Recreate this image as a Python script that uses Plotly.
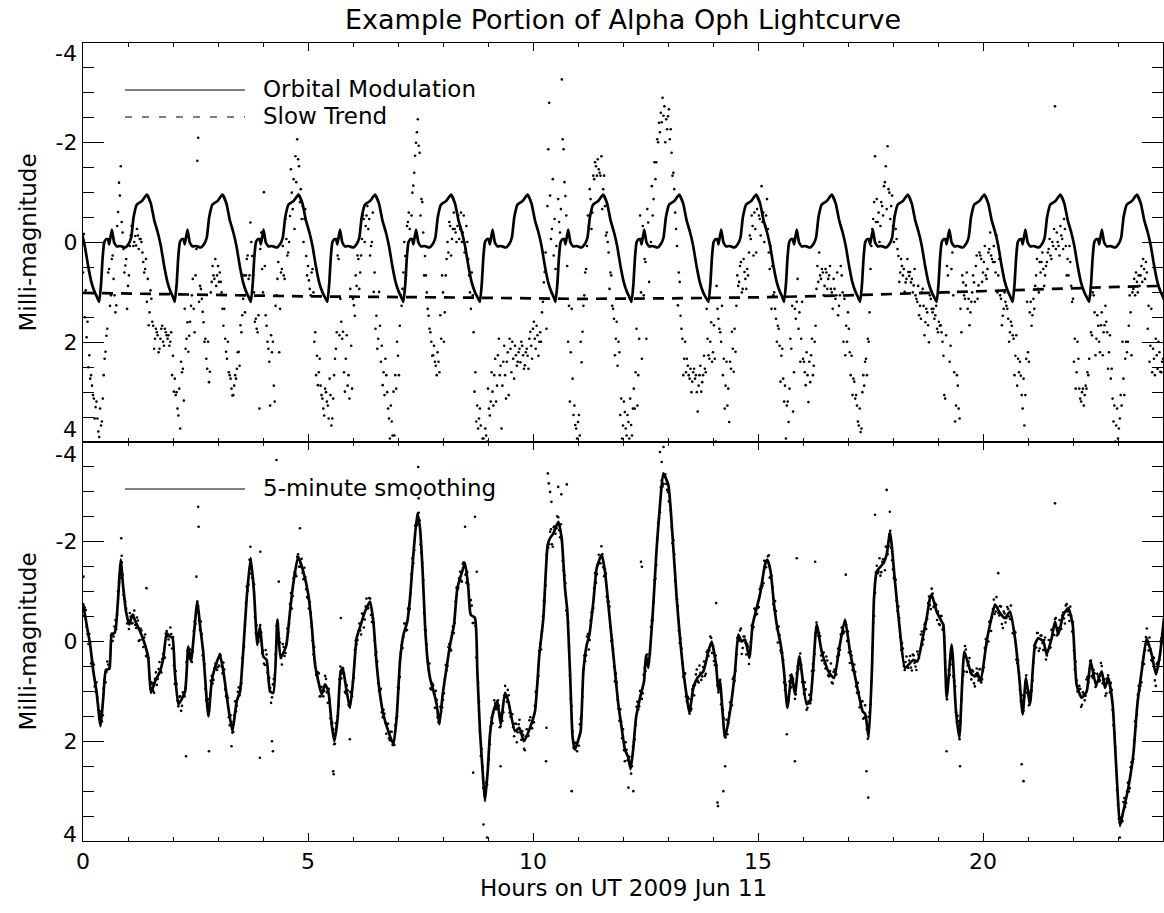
import plotly.graph_objects as go

TITLE = "Example Portion of Alpha Oph Lightcurve"
XLABEL = "Hours on UT 2009 Jun 11"
YLABEL = "Milli-magnitude"
LEG_TOP = ["Orbital Modulation", "Slow Trend"]
LEG_BOT = ["5-minute smoothing"]

# sampling cadence of the photometry (hours)
DOT_STEP = 0.04

# raw light curve (top panel), milli-mag, samples at 0, 0.04, 0.08 ... h
RAW_MMAG = [
 0.60, 1.50, 1.90, 2.50, 2.73, 2.87, 3.13, 3.30, 3.53, 3.90, 3.67, 3.13, 2.33, 1.87, 0.60, 1.27, 0.33, 0.73, 1.40, -0.33, -1.20, -1.53, -0.20, 0.60, 0.33,
 0.87, 0.07, -0.33, 0.07, -0.13, -0.27, 0.13, -0.07, 0.20, 0.60, 0.33, 0.73, 1.40, 1.13, 1.67, 1.93, 1.80, 2.20, 1.93, 1.67, 2.07, 1.80, 1.93, 2.07, 1.80,
 2.27, 2.73, 3.00, 3.47, 3.73, 2.60, 3.17, 2.13, 1.60, 1.87, 1.27, 0.73, 1.80, 0.13, -2.10, 0.87, 1.13, 1.60, 1.93, 2.53, 2.80, 1.00, 0.47, 0.73, 0.87,
 0.47, 0.60, 1.00, 1.67, 1.93, 2.33, 2.60, 2.73, 3.07, 2.87, 2.73, 2.20, 2.47, 1.80, 1.13, 1.40, 0.33, 0.73, -0.40, 0.27, 1.00, 1.53, 1.80, 3.33, -0.20,
 1.00, 0.47, 1.67, 2.13, 3.27, 2.20, 2.87, 1.27, 0.73, 2.20, 0.60, 0.07, 0.73, -0.07, 0.20, -0.53, -1.00, -1.27, -1.73, -2.07, -1.53, -1.07, -0.73, -0.47, 0.27,
 0.47, 0.93, 0.60, 1.00, 1.80, 2.27, 2.60, 2.87, 3.13, 3.47, 3.00, 3.27, 2.73, 3.67, 3.13, 2.33, 1.80, 0.33, 1.13, 1.93, 2.60, 2.33, 2.87, 3.13, 2.07,
 1.13, 1.47, 0.87, 0.33, 0.60, -0.07, -0.47, -0.33, -0.73, -0.47, 0.07, -0.60, 0.60, 1.47, 1.93, 1.67, 2.07, 2.60, 2.33, 3.00, 3.53, 3.27, 3.87, 3.87, 2.93,
 2.27, 1.67, 1.27, 0.60, 0.27, -0.33, -0.60, -0.07, -1.00, -1.40, -2.00, -2.47, -1.80, -0.87, -0.20, 0.27, 1.00, 1.47, 1.80, 2.27, 2.07, 2.47, 2.20, 2.60, 1.93,
 1.00, 1.40, 0.33, 0.20, -0.33, -0.07, -0.60, -0.20, -0.33, -0.07, -0.60, -0.20, 0.20, -0.33, 0.33, 1.00, 0.60, 1.80, 2.60, 3.27, 3.53, 3.67, 3.93, 4.07, 3.87,
 2.93, 3.47, 2.60, 3.27, 2.33, 2.87, 1.93, 2.47, 2.87, 2.07, 3.13, 2.20, 1.93, 2.60, 2.33, 2.07, 2.47, 2.20, 2.40, 2.07, 2.53, 2.20, 2.27, 1.93, 2.07,
 1.73, 1.93, 1.67, 2.27, 1.80, 1.40, 0.80, 0.20, -0.73, -2.80, -0.07, -1.27, -0.47, 0.07, -0.87, -0.20, -3.27, -1.87, -0.93, 0.47, 1.27, 2.20, 2.73, 3.27, 3.73,
 3.60, 3.87, 2.40, 1.27, 0.60, 0.07, -0.33, -0.87, -0.60, -1.27, -1.53, -1.67, -1.40, -1.73, -1.07, -0.73, -0.20, 0.20, 0.60, 1.27, 1.53, 1.93, 2.47, 2.20, 3.13,
 3.67, 3.40, 3.87, 3.60, 3.13, 3.87, 2.93, 2.60, 3.27, 1.93, 1.00, -0.33, 0.33, 1.93, -0.40, 0.07, -1.13, -0.87, -1.27, -2.07, -2.40, -2.60, -2.90, -2.73, -2.47,
 -2.53, -2.07, -1.80, -1.40, -0.60, 0.07, 0.60, 1.47, 1.93, 2.33, 2.60, 2.47, 2.73, 3.00, 2.60, 2.73, 3.00, 2.87, 2.47, 2.80, 2.27, 2.60, 1.93, 2.33, 1.60,
 2.20, 2.33, 0.87, 1.53, 1.80, 1.27, 2.33, 2.87, 3.27, 3.60, 2.53, 2.13, 1.73, 1.27, 0.87, 0.47, 1.00, 0.33, 0.73, 0.53, 0.20, -0.07, -0.33, -0.60, 0.20,
 -0.87, -0.47, -1.13, -0.60, -0.33, -0.87, 0.20, 0.07, 0.47, 1.00, 1.53, 1.67, 2.07, 2.27, 2.73, 2.87, 3.27, 3.60, 1.93, 1.27, 2.60, 1.53, 0.73, 1.40, 1.93,
 2.33, 2.60, 2.20, 3.20, 2.80, 1.93, 2.47, 1.67, 0.47, 0.20, 0.73, 0.60, 0.87, 0.60, 0.73, 0.47, 1.00, 0.73, 1.13, 0.60, 1.27, 0.47, 1.00, 1.13, 1.67,
 1.40, 2.20, 2.27, 2.73, 3.13, 3.27, 3.67, 3.80, 3.00, 2.87, 2.33, 1.93, 1.40, 0.07, -0.47, -1.73, -0.87, -0.60, -0.33, -0.73, -1.13, -1.53, -1.93, -1.00, -0.73,
 -0.33, -0.53, -0.07, 0.27, 0.60, 0.47, 0.53, 0.80, 0.33, 0.67, 0.80, 1.00, 0.53, 1.13, 0.87, 1.27, 1.00, 1.27, 1.60, 1.40, 2.00, 1.13, 1.40, 1.53, 1.27,
 1.80, 1.67, 1.80, 2.27, 3.13, 0.47, 1.00, 2.07, 0.20, 2.60, 3.27, 2.87, 3.53, 1.80, 0.80, 1.13, 0.60, 1.13, 1.40, 1.00, 0.80, 0.47, 1.13, 0.20, 0.33,
 0.60, 0.07, 0.73, 0.20, -0.20, 0.33, 0.07, 0.60, 1.00, 0.33, 1.13, 1.47, 1.00, 1.27, 1.53, 1.80, 1.67, 1.93, 2.27, 2.87, 2.60, 2.67, 3.33, 3.67, 2.33,
 2.20, 1.40, 1.67, 1.13, 0.87, 0.33, 1.00, 0.60, 0.20, 0.87, 0.47, 0.20, -0.07, 0.33, 0.07, -2.73, -0.20, 0.07, -0.33, -0.07, -0.47, 0.07, 0.33, 0.07, 0.87,
 1.13, 1.93, 2.60, 2.33, 3.13, 3.00, 3.27, 2.87, 2.60, 2.33, 1.80, 1.00, 1.40, 1.93, 1.67, 2.20, 1.40, 1.80, 1.27, 1.80, 2.20, 2.73, 3.13, 3.27, 3.67,
 3.93, 3.53, 3.27, 2.73, 2.33, 2.20, 1.67, 1.40, 1.00, 0.73, 0.60, 1.00, 0.87, 0.47, 0.33, 0.73, 0.60, 1.27, 2.07, 2.60, 2.33, 1.93, 2.53, 2.20, 2.60,
 2.33,
]

# raw light curve, interleaved samples at 0.02, 0.06, 0.10 ... h
RAW_MMAG_MID = [
 -0.17, 0.96, 1.59, 2.26, 2.66, 3.06, 3.53, 3.19, 3.79, 3.33, 3.59, 2.66, 2.19, 1.73, 0.53, 1.06, 0.26, 1.06, 1.26, -0.61, -0.94, -0.41, 0.13, 0.46, 1.33,
 0.66, -0.14, -0.34, -0.01, 0.06, -0.14, -0.07, -0.01, 0.39, 0.53, 1.19, 1.66, 0.96, 1.59, 2.13, 1.73, 1.86, 2.13, 1.73, 1.99, 1.73, 1.86, 1.86, 1.99, 2.66,
 2.99, 3.06, 3.33, 2.93, 2.39, 2.53, 1.33, 1.93, 2.19, 1.59, 1.06, 1.33, 0.66, -1.64, 1.19, 0.93, 1.39, 1.99, 2.33, 1.99, 2.59, 0.79, 0.66, 0.33, 0.66,
 0.79, 0.79, 1.33, 1.33, 2.19, 1.99, 2.66, 2.93, 3.06, 2.66, 2.53, 2.19, 1.66, 1.46, 0.66, 0.66, 0.26, 0.66, -0.01, 0.66, 1.59, 1.73, 1.46, 0.13, 0.53,
 -1.01, 1.46, 1.99, 2.39, 1.86, 1.99, 3.19, 1.06, 0.39, 1.33, 0.53, 0.66, -0.47, 0.26, -0.01, -1.47, -0.67, -0.27, -1.21, -1.67, -0.81, -0.47, -0.01, -0.67, 0.66,
 0.76, 1.06, 0.53, 1.99, 2.66, 2.86, 2.33, 3.06, 3.33, 2.93, 3.19, 3.53, 3.06, 3.53, 2.66, 2.13, 0.26, 1.86, 1.59, 1.79, 2.99, 1.86, 2.66, 0.93, 2.93,
 1.26, 0.66, 0.26, 0.93, 0.26, -0.54, -0.01, -0.54, -0.27, 0.26, -0.01, 0.99, 1.73, 2.13, 0.99, 2.39, 2.86, 3.06, 2.66, 3.33, 3.93, 3.59, 2.99, 2.66, 1.99,
 2.66, 1.06, 0.93, -0.01, 0.66, -0.41, -0.27, -0.54, -1.14, -1.74, -2.21, -1.94, -0.54, -0.81, 0.66, 0.66, 1.33, 1.73, 1.99, 2.26, 2.39, 2.66, 2.39, 1.46, 0.66,
 1.99, 0.66, -0.01, -0.41, 0.26, -0.27, -0.27, -0.01, -0.54, -0.27, -0.01, -0.54, 0.13, -0.01, 0.66, 1.33, 1.06, 2.99, 3.59, 3.73, 3.33, 4.13, 3.93, 3.73, 3.99,
 3.33, 3.19, 2.99, 2.66, 3.19, 2.26, 2.66, 3.73, 2.39, 2.66, 2.39, 3.06, 2.13, 1.99, 2.73, 2.26, 2.39, 2.13, 1.99, 2.26, 2.46, 2.13, 2.53, 1.79, 2.33,
 1.59, 2.13, 1.86, 1.99, 1.99, 1.19, 0.59, 1.73, -1.87, -0.94, -0.27, 0.26, 0.53, 0.79, -0.41, -0.67, -2.07, -1.21, -0.54, 1.99, 3.19, 1.33, 3.46, 3.66, 3.93,
 3.46, 1.99, 1.79, 1.06, 0.53, -0.54, -1.07, -0.27, -1.34, -1.61, -1.34, -1.47, -1.34, -0.67, -1.34, -0.14, -0.01, 0.93, 0.66, 1.33, 2.26, 1.59, 1.99, 3.46, 3.93,
 3.19, 3.73, 3.46, 3.93, 3.66, 3.33, 3.33, 1.73, 2.66, -0.54, 2.33, 1.06, 0.39, -0.67, 0.79, -0.01, -0.54, -1.61, -1.61, -2.01, -2.21, -2.41, -2.54, -2.01, -2.27,
 -2.67, -2.27, -1.34, -1.07, -0.27, 1.26, 0.79, 1.73, 2.66, 1.99, 2.33, 2.66, 2.53, 2.79, 2.53, 2.66, 3.39, 2.66, 2.99, 2.66, 2.53, 1.33, 2.26, 1.99, 2.39,
 1.66, 3.99, 1.33, 1.73, 1.99, 2.66, 3.33, 2.39, 2.93, 2.39, 1.79, 2.59, 2.19, 0.66, 0.79, 0.39, 0.93, 0.59, 0.93, 0.66, -0.14, -0.54, 0.26, -0.27, -0.67,
 -0.54, -0.14, -0.41, -0.01, -0.54, -0.27, 0.53, 1.33, 1.06, 1.33, 1.99, 1.73, 2.79, 2.13, 3.19, 3.93, 3.19, 2.93, 2.13, 3.39, 1.33, 1.19, 1.73, 2.39, 1.19,
 2.39, 2.86, 2.66, 2.39, 2.26, 2.66, 1.99, 0.93, 0.79, 0.66, 0.53, 1.06, 0.53, 0.93, 0.66, 0.93, 1.33, 0.93, 1.06, 1.46, 1.06, 0.66, 1.99, 2.26, 1.99,
 1.73, 2.66, 3.06, 2.79, 3.06, 3.59, 3.33, 3.73, 2.66, 2.39, 2.66, 1.99, 0.53, -0.27, -0.81, -0.41, -0.41, -0.01, -0.81, -0.54, -1.21, -0.67, -1.07, -0.47, -0.94,
 -0.01, -0.27, 0.13, 0.79, 0.33, 0.66, 0.99, 0.73, 0.59, 0.59, 0.73, 0.86, 1.06, 1.19, 1.46, 1.53, 0.93, 1.86, 1.33, 1.66, 1.06, 1.33, 1.33, 1.46, 1.73,
 1.59, 1.66, 1.99, 3.06, 1.86, 0.66, 2.39, 0.53, 1.06, 3.59, 2.66, 3.33, 1.33, 0.66, 1.06, 0.86, 1.33, 1.66, 1.19, 0.66, 1.19, 0.26, 0.86, 0.26, 0.79,
 0.39, 0.66, 0.53, 0.13, 0.26, 0.39, 0.39, -0.14, 0.66, 1.06, 1.66, 1.33, 1.19, 1.33, 1.99, 1.59, 1.86, 2.66, 1.86, 2.33, 2.39, 3.06, 2.73, 3.06, 1.19,
 2.39, 1.19, 1.46, 1.33, 0.66, 0.93, 0.39, 0.39, 0.53, 0.66, 0.39, 0.13, 0.26, -0.01, -0.27, 0.13, -0.01, 0.26, -0.14, 0.13, -0.27, 0.66, 0.66, 0.39, 1.19,
 2.39, 2.93, 1.99, 2.93, 3.19, 2.93, 3.06, 2.93, 2.66, 1.06, 1.86, 1.06, 2.26, 1.46, 1.99, 1.66, 2.26, 1.66, 1.59, 2.53, 1.86, 2.53, 3.59, 3.99, 3.33,
 3.73, 3.06, 1.99, 3.06, 1.99, 1.99, 1.06, 2.26, 0.93, 1.06, 0.79, 0.66, 0.66, 0.79, 0.53, 0.39, 1.73, 2.39, 1.33, 2.13, 2.66, 2.26, 1.99, 2.59, 2.39,
]

# residual light curve (bottom panel), milli-mag, samples at 0, 0.04, 0.08 ... h
RESID_MMAG = [
 -0.67, -0.68, -0.29, 0.05, 0.01, 0.39, 0.46, 1.01, 1.13, 1.55, 1.46, 1.48, 0.77, 0.61, 0.46, 0.50, -0.16, -0.10, -0.43, -0.54, -1.19, -1.47, -1.34, -0.85, -0.66,
 -0.43, -0.57, -0.36, -0.53, -0.33, -0.48, -0.01, -0.26, -0.04, -0.08, 0.29, 0.27, 0.74, 0.82, 0.99, 0.75, 0.87, 0.55, 0.59, 0.35, 0.33, -0.16, -0.10, 0.07, -0.15,
 -0.09, 0.85, 0.85, 1.30, 1.10, 1.29, 1.04, 0.93, 0.18, 0.29, 0.35, 0.20, -0.40, -0.60, -0.71, -0.23, -0.15, 0.36, 0.95, 1.16, 1.38, 0.79, 0.84, 0.54, 0.54,
 0.51, 0.25, 0.50, 0.42, 0.96, 1.08, 1.52, 1.48, 1.83, 1.48, 1.40, 1.01, 1.08, 0.84, 0.14, -0.33, -1.10, -1.14, -1.65, -1.28, -1.15, -0.17, -0.05, -0.18, -0.18,
 0.19, 0.47, 0.26, 0.73, 0.93, 1.12, 0.75, 0.26, -0.26, -0.06, 0.33, 0.05, 0.29, 0.04, -0.19, -0.75, -0.66, -1.27, -1.36, -1.70, -1.50, -1.57, -1.38, -1.48, -1.05,
 -0.87, -0.79, -0.30, 0.26, 0.42, 0.68, 0.64, 1.10, 0.99, 0.99, 0.75, 1.23, 1.17, 1.65, 1.76, 2.05, 1.63, 1.30, 0.50, 0.64, 0.64, 1.04, 0.98, 1.30, 1.04,
 0.81, 0.17, 0.06, -0.21, -0.22, -0.56, -0.28, -0.70, -0.66, -0.87, -0.53, -0.48, -0.02, 0.21, 0.83, 1.01, 1.42, 1.37, 1.63, 1.65, 1.94, 1.81, 2.07, 2.07, 1.54,
 0.92, 0.71, 0.07, -0.09, -0.36, -0.23, -0.68, -0.96, -1.67, -1.83, -2.34, -2.38, -2.43, -1.78, -1.23, -0.24, 0.06, 0.57, 0.94, 0.84, 1.05, 0.99, 1.52, 1.62, 1.41,
 1.17, 0.75, 0.58, 0.11, 0.14, -0.18, -0.17, -0.80, -1.04, -1.27, -1.22, -1.56, -1.50, -1.18, -1.15, -0.67, -0.72, -0.37, -0.31, 0.62, 1.20, 2.29, 2.51, 3.09, 2.83,
 2.45, 2.06, 1.53, 1.43, 1.24, 1.32, 1.29, 1.70, 1.59, 1.09, 1.10, 0.97, 1.43, 1.45, 1.72, 1.65, 2.02, 1.66, 1.83, 1.80, 2.15, 1.90, 1.90, 1.58, 1.74,
 1.63, 1.29, 1.03, 0.69, 0.04, -0.20, -0.82, -1.12, -1.88, -1.95, -2.25, -1.90, -2.31, -2.27, -2.49, -2.09, -2.05, -1.43, -1.17, -0.54, 0.10, 1.15, 1.80, 2.14, 2.03,
 2.01, 1.66, 1.50, 0.56, 0.39, -0.10, 0.16, -0.42, -0.60, -1.07, -1.18, -1.55, -1.57, -1.91, -1.49, -1.45, -0.90, -0.80, -0.29, -0.03, 0.50, 0.64, 1.17, 1.59, 1.61,
 1.76, 2.40, 2.17, 2.37, 2.42, 2.50, 2.01, 1.68, 1.21, 1.30, 1.00, 1.04, 0.53, 0.35, 0.45, 0.25, -0.42, -0.78, -1.26, -2.07, -2.46, -3.09, -3.11, -3.35, -3.16,
 -3.00, -2.80, -2.28, -2.03, -1.22, -0.84, -0.22, -0.06, 0.44, 0.66, 1.10, 1.11, 1.45, 1.35, 0.89, 0.87, 0.56, 0.82, 0.63, 0.70, 0.40, 0.65, 0.18, 0.18, -0.07,
 0.09, 0.47, 0.48, 1.02, 0.77, 1.35, 1.54, 1.92, 1.86, 1.43, 1.26, 0.75, 0.79, 0.26, -0.03, -0.22, 0.25, -0.10, 0.03, 0.05, 0.45, 0.01, -0.27, -0.66, -0.54,
 -0.68, -1.05, -1.08, -1.17, -1.61, -1.61, -1.73, -1.28, -1.09, -0.64, -0.61, 0.02, -0.13, 0.22, 0.37, 0.97, 1.19, 1.19, 0.68, 0.81, 0.89, 1.06, 0.50, 0.34, 0.47,
 0.80, 0.82, 1.37, 1.20, 1.24, 0.59, 0.58, -0.17, -0.22, -0.17, 0.28, 0.25, 0.44, 0.30, 0.68, 0.59, 0.82, 0.61, 0.60, 0.30, 0.27, -0.14, -0.15, -0.20, -0.34,
 -0.20, 0.43, 0.28, 0.58, 0.61, 1.03, 1.02, 1.27, 1.20, 1.53, 1.51, 1.95, 1.42, 0.81, -0.38, -0.97, -1.52, -1.40, -1.32, -1.60, -1.58, -1.90, -1.75, -2.15, -1.88,
 -1.45, -1.26, -0.82, -0.70, -0.08, 0.03, 0.49, 0.41, 0.51, 0.38, 0.52, 0.26, 0.43, 0.57, 0.26, 0.19, -0.20, -0.04, -0.37, -0.45, -0.90, -0.65, -0.96, -0.71, -0.73,
 -0.60, -0.33, -0.51, -0.29, 0.40, 1.16, 0.56, 0.34, 0.46, 0.78, 1.42, 1.49, 1.96, 1.18, 0.67, 0.09, 0.61, 0.40, 0.62, 0.57, 0.84, 0.66, 0.70, 0.56, 0.82,
 0.59, 0.13, 0.06, 0.00, -0.41, -0.48, -0.84, -0.60, -0.69, -0.52, -0.70, -0.27, -0.56, -0.47, -0.65, -0.45, -0.43, -0.16, -0.18, 0.43, 0.62, 1.20, 1.34, 1.11, 0.68,
 1.02, 1.04, 0.99, 0.42, 0.13, -0.17, 0.19, -0.12, 0.03, -0.03, 0.36, 0.17, 0.13, -0.23, -0.13, -0.45, -0.12, -0.27, -0.28, -0.52, -0.46, -0.72, -0.60, -0.41, -0.51,
 -0.39, 0.56, 0.78, 1.00, 0.95, 1.27, 1.06, 1.09, 0.71, 0.71, 0.38, 0.73, 0.64, 0.88, 0.70, 0.78, 0.49, 0.84, 1.09, 0.74, 0.83, 0.83, 1.37, 1.83, 2.59,
 3.28, 3.63, 3.62, 3.22, 3.32, 3.01, 3.01, 2.52, 2.42, 1.98, 1.70, 1.07, 0.97, 0.82, 0.33, 0.17, -0.26, 0.18, 0.15, 0.39, 0.33, 0.89, 0.42, 0.36, -0.06,
 -0.19,
]

# residual light curve, interleaved samples at 0.02, 0.06, 0.10 ... h
RESID_MMAG_MID = [
 -0.51, -0.63, -0.15, -0.15, 0.44, 0.43, 0.90, 0.82, 1.37, 1.40, 1.60, 0.94, 0.82, 0.40, 0.53, -0.12, -0.01, -0.30, -0.25, -1.01, -1.27, -1.59, -0.93, -0.80, -0.36,
 -0.25, -0.50, -0.37, -0.62, -0.27, -0.42, -0.03, -0.22, 0.11, -0.14, 0.30, 0.33, 0.95, 0.85, 1.03, 0.62, 0.75, 0.41, 0.62, 0.25, 0.32, -0.21, -0.04, -0.28, 0.14,
 0.48, 0.59, 1.19, 1.11, 1.39, 1.02, 1.10, 0.41, 0.34, 0.16, 0.41, -0.21, -0.35, -0.80, -0.41, -0.40, 0.28, 0.45, 1.18, 1.16, 1.27, 0.69, 0.77, 0.44, 0.57,
 0.48, 0.28, 0.64, 0.56, 1.10, 1.13, 1.68, 1.61, 1.81, 1.20, 1.29, 0.92, 0.95, 0.33, 0.11, -0.77, -1.02, -1.64, -1.36, -1.26, -0.49, -0.32, 0.00, -0.33, 0.23,
 0.44, 0.17, 0.62, 0.73, 1.23, 0.86, 0.67, -0.31, -0.16, 0.02, 0.46, 0.11, 0.23, -0.26, -0.35, -0.97, -0.91, -1.38, -1.31, -1.75, -1.50, -1.66, -1.25, -1.29, -0.89,
 -0.66, -0.58, -0.02, 0.11, 0.67, 0.62, 1.10, 0.91, 1.10, 0.69, 1.02, 0.95, 1.54, 1.63, 2.06, 1.64, 1.50, 0.76, 0.74, 0.54, 1.01, 0.88, 1.27, 1.01, 1.10,
 0.73, -0.02, -0.03, -0.36, -0.14, -0.55, -0.44, -0.86, -0.67, -0.86, -0.39, -0.37, 0.27, 0.40, 0.98, 0.95, 1.52, 1.45, 1.85, 1.65, 1.98, 1.81, 2.08, 1.68, 1.50,
 0.93, 0.23, 0.13, -0.36, -0.22, -0.65, -0.65, -1.35, -1.57, -2.32, -2.33, -2.58, -1.95, -1.58, -0.57, -0.22, 0.41, 0.44, 0.96, 0.88, 1.33, 1.17, 1.62, 1.31, 1.32,
 1.04, 0.47, 0.49, 0.05, 0.18, -0.30, -0.37, -1.08, -1.08, -1.40, -1.20, -1.59, -1.34, -1.39, -0.81, -0.83, -0.37, -0.48, 0.32, 0.82, 1.80, 2.15, 2.94, 2.92, 2.87,
 2.37, 1.71, 1.64, 1.18, 1.36, 1.18, 1.72, 1.44, 1.42, 0.89, 1.21, 1.08, 1.51, 1.46, 1.90, 1.65, 1.82, 1.57, 1.97, 1.87, 2.18, 1.76, 1.89, 1.52, 1.74,
 1.62, 1.01, 0.83, 0.19, 0.16, -0.50, -0.80, -1.74, -1.88, -2.20, -1.95, -2.29, -2.16, -2.51, -2.23, -2.35, -1.62, -1.33, -0.62, -0.37, 0.68, 1.29, 2.13, 2.03, 2.20,
 2.09, 1.55, 1.11, 0.28, 0.28, -0.15, -0.03, -0.58, -0.67, -1.37, -1.35, -1.74, -1.57, -1.75, -1.31, -1.36, -0.80, -0.70, -0.01, 0.14, 0.80, 0.82, 1.35, 1.36, 1.94,
 2.18, 2.02, 2.38, 2.31, 2.65, 2.11, 1.96, 1.31, 1.36, 0.99, 1.15, 0.67, 0.59, 0.26, 0.41, -0.29, -0.43, -1.23, -1.54, -2.38, -2.59, -3.23, -3.16, -3.35, -3.04,
 -2.81, -2.63, -1.97, -1.75, -0.95, -0.71, 0.03, 0.14, 0.71, 0.64, 1.20, 1.15, 1.39, 0.96, 1.08, 0.66, 0.79, 0.48, 0.77, 0.51, 0.69, 0.21, 0.29, -0.10, 0.23,
 0.39, 0.28, 0.88, 0.79, 1.26, 1.37, 1.89, 1.57, 1.64, 1.22, 1.28, 0.71, 0.59, -0.07, -0.01, -0.26, 0.13, -0.10, 0.26, 0.10, 0.27, -0.32, -0.29, -0.63, -0.55,
 -0.69, -1.10, -1.12, -1.62, -1.49, -1.71, -1.28, -1.32, -0.75, -0.81, -0.26, -0.30, 0.18, 0.22, 0.82, 0.87, 1.23, 0.80, 0.92, 0.75, 1.15, 0.64, 0.55, 0.24, 0.81,
 1.05, 0.96, 1.33, 1.07, 1.17, 0.45, 0.25, -0.38, -0.11, -0.11, 0.38, 0.22, 0.54, 0.38, 0.70, 0.44, 0.84, 0.56, 0.66, 0.14, 0.17, -0.28, -0.17, -0.40, -0.01,
 0.22, 0.20, 0.57, 0.46, 0.90, 0.83, 1.32, 1.20, 1.55, 1.28, 1.76, 1.51, 1.26, 0.13, -0.51, -1.38, -1.37, -1.67, -1.39, -1.65, -1.43, -1.90, -1.91, -2.22, -1.63,
 -1.27, -1.24, -0.61, -0.47, 0.17, 0.14, 0.57, 0.30, 0.53, 0.29, 0.58, 0.28, 0.50, 0.20, 0.33, -0.14, 0.06, -0.34, -0.25, -0.77, -0.73, -1.06, -0.69, -0.76, -0.43,
 -0.35, -0.51, -0.24, -0.09, 0.87, 0.74, 0.67, 0.20, 0.70, 0.90, 1.62, 1.60, 1.63, 0.80, 0.60, 0.16, 0.48, 0.33, 0.76, 0.60, 0.90, 0.54, 0.78, 0.55, 0.76,
 0.52, -0.05, 0.00, -0.39, -0.21, -0.65, -0.55, -0.89, -0.57, -0.71, -0.35, -0.60, -0.38, -0.69, -0.50, -0.72, -0.17, -0.20, 0.36, 0.38, 0.96, 1.08, 1.39, 0.85, 1.03,
 1.28, 0.99, 0.78, 0.08, 0.12, -0.17, 0.14, -0.12, 0.17, -0.08, 0.28, -0.03, 0.12, -0.24, -0.13, -0.47, -0.15, -0.43, -0.25, -0.58, -0.36, -0.75, -0.53, -0.70, -0.20,
 0.18, 0.40, 1.00, 0.89, 1.31, 1.02, 1.18, 0.76, 0.82, 0.39, 0.69, 0.57, 0.91, 0.65, 0.80, 0.43, 0.84, 0.76, 1.04, 0.68, 1.02, 0.97, 1.68, 2.12, 2.98,
 3.55, 3.53, 3.60, 3.14, 3.24, 2.83, 2.94, 2.42, 2.36, 1.60, 1.47, 0.89, 0.89, 0.42, 0.45, -0.09, 0.06, -0.08, 0.37, 0.31, 0.78, 0.45, 0.50, 0.00, 0.03,
]

# isolated residual points (hours, milli-mag)
RESID_OUT_T = [0.01, 0.85, 0.86, 1.41, 2.29, 2.52, 2.56, 2.57, 2.80, 3.30, 3.72, 3.93, 3.94, 4.20, 4.22, 4.30, 4.35, 4.82, 5.56, 5.57,
               5.73, 5.93, 7.45, 7.46, 8.49, 8.67, 8.71, 8.75, 8.90, 8.98, 9.28, 10.29, 10.30, 10.33, 10.35, 10.38, 10.41, 10.56, 10.63, 10.75,
               10.86, 12.12, 12.23, 12.40, 12.42, 12.82, 12.86, 12.90, 14.07, 14.10, 14.11, 14.23, 14.27, 15.64, 15.82, 15.86, 16.27, 16.95, 17.41, 17.45,
               17.60, 17.86, 17.93, 19.19, 19.49, 20.34, 20.86, 20.90, 21.60, 23.04]
RESID_OUT_V = [-1.30, -2.07, -1.72, -1.07, 2.30, -1.30, -2.70, -2.30, 2.20, 2.10, -1.90, 2.33, -1.80, 2.00, 2.20, -3.64, -1.20, -2.27, 2.60, 2.66,
               -0.47, 1.96, -3.50, -2.87, -2.30, 2.63, -2.50, -1.40, 3.67, 3.93, 2.50, 2.40, 1.73, -3.37, -3.17, -3.00, -2.80, -3.10, -2.95, -3.15,
               3.00, 2.93, 3.00, -1.60, -1.50, -3.80, -3.60, -3.90, -0.77, 3.23, 3.30, 3.00, 2.50, 1.86, 2.40, -1.67, -1.60, -1.34, 2.60, 3.13,
               -2.54, -3.04, -2.60, 2.20, 2.50, -1.37, 2.46, 2.80, -2.77, 3.93]

# orbital modulation: one cycle shape (hours after minimum, milli-mag) and the minimum times
ORB_DT = [0.000, 0.044, 0.074, 0.111, 0.148, 0.193, 0.222, 0.281, 0.333, 0.393, 0.467, 0.578, 0.652,
          0.711, 0.763, 0.837, 0.948, 1.059, 1.148, 1.222, 1.296, 1.370, 1.444, 1.518, 1.592, 1.630]
ORB_V = [1.19, 0.80, 0.33, 0.00, -0.06, -0.07, 0.04, -0.26, 0.00, 0.08, 0.07, 0.10, 0.03,
         -0.10, -0.50, -0.76, -0.83, -0.96, -0.78, -0.45, -0.22, 0.07, 0.47, 0.80, 1.00, 1.07]
ORB_MIN_T = [-1.33, 0.36, 2.04, 3.73, 5.43, 7.12, 8.82, 10.50, 12.19, 13.90, 15.58, 17.27, 18.97, 20.66, 22.36, 24.05]

# slow trend
TREND_T = [0, 2, 5, 8, 11, 13, 15, 17, 19, 21, 23, 24]
TREND_V = [1.01, 1.04, 1.08, 1.10, 1.13, 1.12, 1.10, 1.06, 1.00, 0.94, 0.89, 0.87]

# 5-minute smoothing
SMOOTH_T = [0.00, 0.08, 0.16, 0.23, 0.30, 0.39, 0.45, 0.51, 0.585, 0.637, 0.70, 0.733, 0.79, 0.837, 0.896, 0.956, 1.03, 1.10, 1.18, 1.27,
            1.38, 1.45, 1.51, 1.60, 1.71, 1.785, 1.86, 1.93, 1.99, 2.04, 2.12, 2.19, 2.27, 2.34, 2.40, 2.54, 2.60, 2.67, 2.785, 2.86,
            2.93, 3.04, 3.12, 3.23, 3.32, 3.415, 3.49, 3.56, 3.64, 3.726, 3.80, 3.874, 3.933, 4.007, 4.081, 4.156, 4.23, 4.32, 4.39, 4.467,
            4.52, 4.60, 4.67, 4.78, 4.896, 5.007, 5.081, 5.156, 5.23, 5.304, 5.378, 5.452, 5.526, 5.585, 5.659, 5.726, 5.77, 5.859, 5.933, 6.007,
            6.081, 6.17, 6.267, 6.378, 6.452, 6.526, 6.60, 6.674, 6.785, 6.896, 6.97, 7.044, 7.119, 7.207, 7.267, 7.341, 7.43, 7.489, 7.548, 7.60,
            7.652, 7.711, 7.80, 7.859, 7.919, 7.993, 8.067, 8.156, 8.244, 8.319, 8.415, 8.489, 8.563, 8.615, 8.711, 8.763, 8.822, 8.881, 8.933, 8.993,
            9.044, 9.119, 9.207, 9.281, 9.378, 9.452, 9.60, 9.696, 9.80, 9.933, 10.044, 10.141, 10.23, 10.326, 10.378, 10.452, 10.563, 10.637, 10.711, 10.763,
            10.822, 10.881, 10.933, 11.007, 11.059, 11.119, 11.193, 11.252, 11.341, 11.415, 11.526, 11.60, 11.674, 11.748, 11.822, 11.896, 11.97, 12.044, 12.119, 12.17,
            12.23, 12.289, 12.378, 12.467, 12.511, 12.563, 12.622, 12.674, 12.748, 12.822, 12.896, 13.007, 13.104, 13.193, 13.267, 13.341, 13.40, 13.474, 13.563, 13.652,
            13.785, 13.896, 13.97, 14.067, 14.119, 14.156, 14.267, 14.378, 14.489, 14.563, 14.637, 14.711, 14.807, 14.881, 14.97, 15.044, 15.156, 15.207, 15.281, 15.356,
            15.43, 15.504, 15.578, 15.652, 15.748, 15.822, 15.919, 16.081, 16.156, 16.304, 16.415, 16.563, 16.689, 16.807, 16.933, 17.044, 17.133, 17.326, 17.385, 17.459,
            17.533, 17.578, 17.637, 17.785, 17.859, 17.933, 18.044, 18.156, 18.267, 18.452, 18.541, 18.659, 18.748, 18.822, 18.859, 18.97, 19.081, 19.119, 19.193, 19.304,
            19.40, 19.474, 19.585, 19.674, 19.748, 19.822, 19.874, 19.948, 20.081, 20.156, 20.267, 20.378, 20.489, 20.60, 20.711, 20.807, 20.881, 20.956, 21.044, 21.156,
            21.23, 21.341, 21.415, 21.526, 21.60, 21.674, 21.785, 21.896, 21.993, 22.081, 22.193, 22.304, 22.393, 22.511, 22.637, 22.711, 22.785, 22.881, 22.933, 22.985,
            23.044, 23.119, 23.23, 23.341, 23.43, 23.526, 23.637, 23.748, 23.844, 23.933, 24.022]
SMOOTH_V = [-0.77, -0.34, 0.07, 0.60, 1.00, 1.70, 1.13, 0.57, 0.55, -0.14, -0.17, -0.30, -1.00, -1.64, -1.07, -0.60, -0.34, -0.54, -0.37, -0.20,
            0.07, 0.33, 1.03, 0.80, 0.60, 0.33, -0.17, -0.10, -0.07, 0.60, 1.26, 1.16, 1.00, 0.10, 0.40, -0.80, -0.33, 0.20, 1.50, 0.80,
            0.53, 0.27, 0.60, 1.33, 1.80, 1.20, 1.00, 0.20, -0.90, -1.67, -1.00, 0.07, -0.30, 0.30, 0.37, 1.00, 1.03, -0.44, 0.33, 0.20,
            0.07, -0.60, -1.14, -1.70, -1.40, -0.94, -0.34, 0.46, 0.80, 1.06, 0.86, 1.00, 1.66, 2.00, 1.53, 0.60, 0.53, 1.00, 1.33, 0.73,
            -0.07, -0.33, -0.60, -0.80, -0.40, 0.46, 1.06, 1.46, 1.80, 2.06, 1.53, 0.40, -0.13, -0.40, -0.87, -1.74, -2.57, -2.27, -1.40, -0.34,
            0.33, 0.73, 1.03, 1.26, 1.66, 1.06, 0.60, 0.07, -0.33, -1.07, -1.37, -1.57, -1.07, -0.54, -0.47, 0.60, 1.80, 2.60, 3.20, 2.60,
            1.86, 1.40, 1.20, 1.66, 1.03, 1.20, 1.80, 1.73, 2.00, 1.73, 1.40, 0.26, -0.47, -1.94, -2.07, -2.17, -2.40, -2.07, -1.07, -0.60,
            0.60, 1.93, 2.17, 1.97, 1.80, 0.60, 0.07, -0.13, -0.80, -1.47, -1.74, -1.40, -0.74, -0.07, 0.60, 1.26, 1.73, 2.17, 2.33, 2.56,
            2.13, 1.53, 1.13, 0.80, 0.27, 0.53, -0.07, -0.74, -1.87, -2.74, -3.37, -3.14, -2.07, -0.87, -0.07, 0.60, 1.00, 1.43, 0.93, 0.73,
            0.60, 0.20, 0.00, 0.46, 0.99, 0.80, 1.93, 1.40, 0.60, -0.14, 0.00, -0.04, 0.33, -0.34, -0.67, -0.94, -1.54, -1.64, -1.40, -0.74,
            -0.27, 0.06, 0.60, 1.33, 0.66, 1.06, 0.30, 1.26, 1.20, -0.34, 0.20, 0.60, 0.73, 0.13, -0.44, 0.20, 0.60, 1.40, 1.46, 1.93,
            0.53, -0.87, -1.40, -1.57, -1.74, -2.20, -1.20, -0.20, 0.53, 0.37, 0.40, -0.07, -0.47, -0.87, -0.94, -0.60, -0.40, -0.34, 1.13, 0.06,
            1.40, 1.93, 0.20, 0.46, 0.66, 0.70, 0.63, 0.80, 0.00, -0.34, -0.74, -0.57, -0.47, -0.60, -0.07, 0.73, 1.46, 0.73, 1.26, 0.06,
            -0.07, 0.00, 0.26, -0.07, -0.40, -0.14, -0.54, -0.67, -0.34, 0.87, 1.13, 1.00, 0.40, 0.87, 0.60, 0.93, 0.73, 1.26, 2.06, 2.93,
            3.70, 3.40, 2.93, 2.26, 1.26, 0.60, -0.07, 0.26, 0.66, 0.26, -0.47]

X_TICKS = [0, 5, 10, 15, 20]
Y_TICKS = [-4, -2, 0, 2, 4]

# ---------------------------------------------------------------------------
FONT = "DejaVu Sans, Verdana, sans-serif"
BLACK = "#000000"
TICK_SIZE = 22
TEXT_SIZE = 23

raw_t = [round(i * DOT_STEP, 3) for i in range(len(RAW_MMAG))]
raw_mid_t = [round(DOT_STEP / 2 + i * DOT_STEP, 3) for i in range(len(RAW_MMAG_MID))]
res_t = [round(i * DOT_STEP, 3) for i in range(len(RESID_MMAG))]
res_mid_t = [round(DOT_STEP / 2 + i * DOT_STEP, 3) for i in range(len(RESID_MMAG_MID))]

orb_t, orb_v = [], []
for m in ORB_MIN_T:
    for dt, v in zip(ORB_DT, ORB_V):
        orb_t.append(m + dt)
        orb_v.append(v)

n_sm = min(len(SMOOTH_T), len(SMOOTH_V))

fig = go.Figure()
dot = dict(size=2.6, color=BLACK, line=dict(width=0))
fig.add_trace(go.Scatter(x=raw_t + raw_mid_t, y=RAW_MMAG + RAW_MMAG_MID, mode="markers", marker=dot,
                         xaxis="x2", yaxis="y2", showlegend=False, hoverinfo="skip"))
fig.add_trace(go.Scatter(x=orb_t, y=orb_v, mode="lines",
                         line=dict(color=BLACK, width=2.7, shape="spline", smoothing=0.4),
                         xaxis="x2", yaxis="y2", showlegend=False, hoverinfo="skip"))
fig.add_trace(go.Scatter(x=TREND_T, y=TREND_V, mode="lines", line=dict(color=BLACK, width=2.7, dash="11px,8px"),
                         xaxis="x2", yaxis="y2", showlegend=False, hoverinfo="skip"))
fig.add_trace(go.Scatter(x=res_t + res_mid_t + RESID_OUT_T, y=RESID_MMAG + RESID_MMAG_MID + RESID_OUT_V,
                         mode="markers", marker=dot,
                         xaxis="x", yaxis="y", showlegend=False, hoverinfo="skip"))
fig.add_trace(go.Scatter(x=SMOOTH_T[:n_sm], y=SMOOTH_V[:n_sm], mode="lines",
                         line=dict(color=BLACK, width=2.7, shape="spline", smoothing=0.5),
                         xaxis="x", yaxis="y", showlegend=False, hoverinfo="skip"))

tickfont = dict(family=FONT, size=TICK_SIZE, color=BLACK)
textfont = dict(family=FONT, size=TEXT_SIZE, color=BLACK)


def xax(anchor, labels):
    return dict(domain=[0, 1], range=[0, 24], anchor=anchor, tickmode="array", tickvals=X_TICKS,
                ticks="inside", ticklen=8, tickwidth=1, tickcolor=BLACK,
                minor=dict(tickmode="array", tickvals=list(range(0, 25)), ticks="inside", ticklen=4,
                           tickwidth=1, tickcolor=BLACK),
                showline=True, linecolor=BLACK, linewidth=1.3, mirror="ticks",
                showgrid=False, zeroline=False, showticklabels=labels, tickfont=tickfont)


def yax(domain, texts):
    return dict(domain=domain, range=[4, -4], anchor="x" if domain[0] == 0 else "x2",
                tickmode="array", tickvals=Y_TICKS, ticktext=texts,
                ticks="inside", ticklen=21, tickwidth=1, tickcolor=BLACK,
                minor=dict(tickmode="array", tickvals=[v / 2 for v in range(-8, 9)], ticks="inside",
                           ticklen=11, tickwidth=1, tickcolor=BLACK),
                showline=True, linecolor=BLACK, linewidth=1.3, mirror="ticks",
                showgrid=False, zeroline=False, tickfont=tickfont)


W, H = 1164, 913
L, R, T, B = 83, 1, 43, 72
pw, ph = W - L - R, H - T - B


def px(x):
    return (x - L) / pw


def py(y):
    return (H - B - y) / ph


annotations = [
    dict(text=TITLE, x=0.5, y=py(19), xref="paper", yref="paper", showarrow=False,
         font=dict(family=FONT, size=27, color=BLACK), xanchor="center", yanchor="middle"),
    dict(text=XLABEL, x=0.5, y=py(888), xref="paper", yref="paper", showarrow=False,
         font=textfont, xanchor="center", yanchor="middle"),
    dict(text=YLABEL, x=px(27), y=0.75, xref="paper", yref="paper", showarrow=False, textangle=-90,
         font=textfont, xanchor="center", yanchor="middle"),
    dict(text=YLABEL, x=px(27), y=0.25, xref="paper", yref="paper", showarrow=False, textangle=-90,
         font=textfont, xanchor="center", yanchor="middle"),
    dict(text=LEG_TOP[0], x=px(261), y=py(89), xref="paper", yref="paper", showarrow=False,
         font=textfont, xanchor="left", yanchor="middle"),
    dict(text=LEG_TOP[1], x=px(261), y=py(116), xref="paper", yref="paper", showarrow=False,
         font=textfont, xanchor="left", yanchor="middle"),
    dict(text=LEG_BOT[0], x=px(261), y=py(488), xref="paper", yref="paper", showarrow=False,
         font=textfont, xanchor="left", yanchor="middle"),
]
# edge tick labels, nudged inside each panel as in the original
for yref, val, shift in [("y2", -4, -10), ("y2", 4, 13), ("y", -4, -12), ("y", 4, 7)]:
    annotations.append(dict(text=str(val), x=0, y=val, xref="paper", yref=yref, showarrow=False,
                            xanchor="right", yanchor="middle", xshift=-4, yshift=shift,
                            font=tickfont))

shapes = [
    dict(type="line", xref="paper", yref="paper", x0=px(125), x1=px(245), y0=py(90), y1=py(90),
         line=dict(color=BLACK, width=1)),
    dict(type="line", xref="paper", yref="paper", x0=px(125), x1=px(245), y0=py(117), y1=py(117),
         line=dict(color=BLACK, width=1, dash="7px,10px")),
    dict(type="line", xref="paper", yref="paper", x0=px(125), x1=px(245), y0=py(489), y1=py(489),
         line=dict(color=BLACK, width=1)),
]

fig.update_layout(
    width=W, height=H, autosize=False,
    margin=dict(l=L, r=R, t=T, b=B, pad=0),
    paper_bgcolor="white", plot_bgcolor="white",
    xaxis=xax("y", True),
    xaxis2=xax("y2", False),
    yaxis=yax([0, 0.5], ["", "-2", "0", "2", ""]),
    yaxis2=yax([0.5, 1], ["", "-2", "0", "2", ""]),
    annotations=annotations,
    shapes=shapes,
    showlegend=False,
)
fig.update_layout(xaxis2=dict(matches="x"))

fig.write_html("out.html", config={"displayModeBar": False},
               post_script="document.body.style.margin='0px';document.body.style.overflow='hidden';")
